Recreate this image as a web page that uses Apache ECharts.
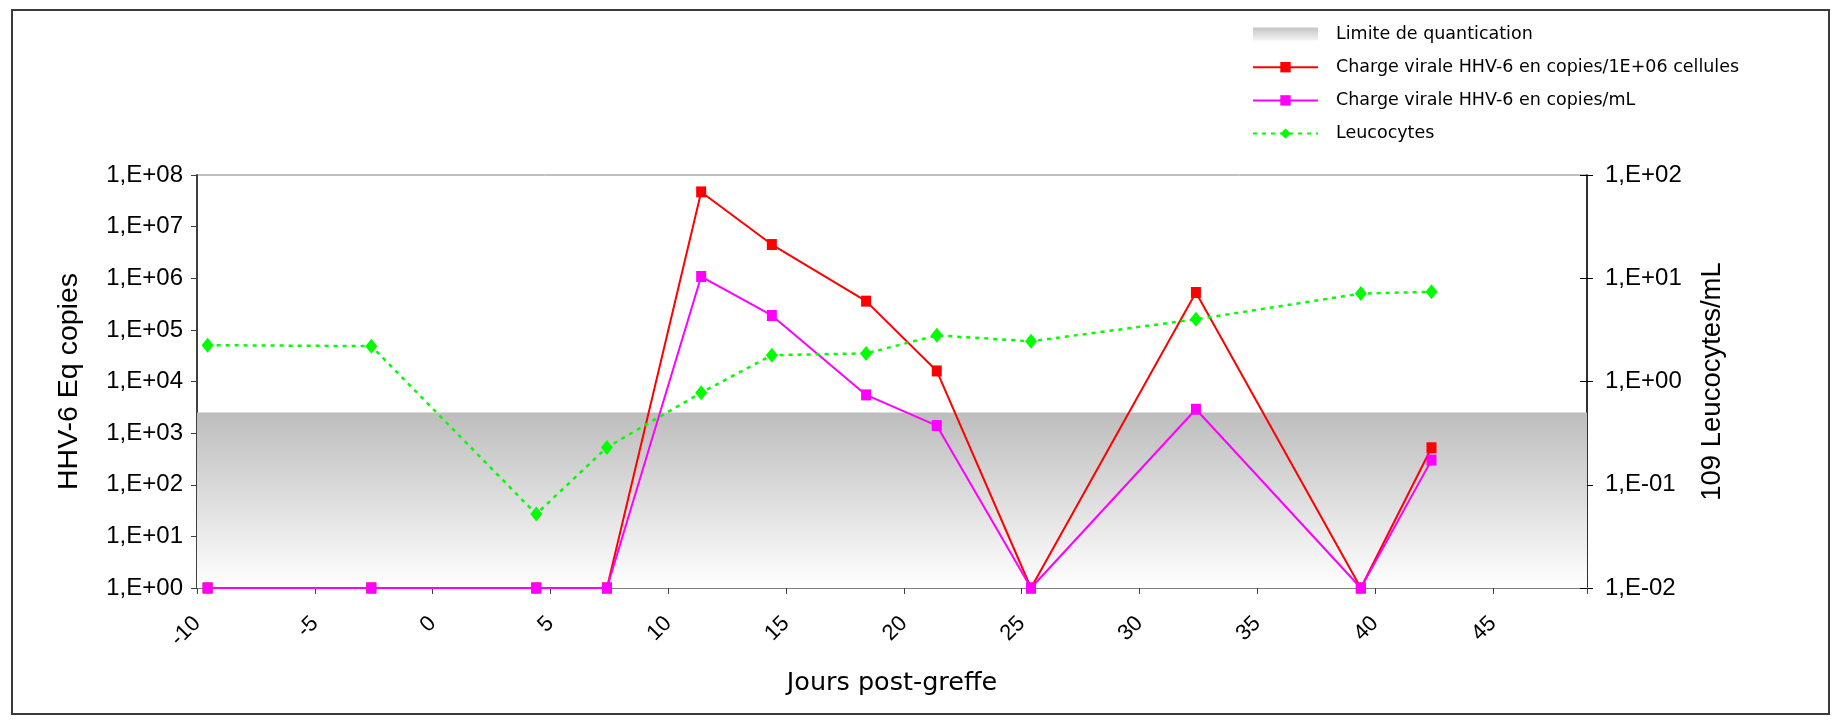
<!DOCTYPE html>
<html>
<head>
<meta charset="utf-8">
<title>HHV-6</title>
<script src="https://cdn.jsdelivr.net/npm/echarts@6/dist/echarts.min.js"></script>
<style>
  html, body { margin: 0; padding: 0; background: #fff; }
  #main { width: 1841px; height: 721px; }
</style>
</head>
<body>
<div id="main"></div>
<script>
var myChart = echarts.init(document.getElementById('main'));

// jours post-greffe
var days = [-9.55, -2.6, 4.4, 7.4, 11.4, 14.4, 18.4, 21.4, 25.4, 32.4, 39.4, 42.4];
// charge virale HHV-6 en copies/1E+06 cellules
var chargeCellules = [1, 1, 1, 1, 4.7e7, 4.5e6, 3.6e5, 1.6e4, 1, 5.3e5, 1, 520];
// charge virale HHV-6 en copies/mL
var chargeMl = [1, 1, 1, 1, 1.08e6, 1.9e5, 5.5e3, 1.4e3, 1, 2.9e3, 1, 300];
// leucocytes (10^9/mL)
var leucocytes = [2.25, 2.2, 0.052, 0.23, 0.78, 1.8, 1.87, 2.8, 2.45, 4.0, 7.1, 7.4];
// limite de quantification
var limite = 2500;
var xMin = -10, xMax = 49;

var seriesNames = [
    'Limite de quantication',
    'Charge virale HHV-6 en copies/1E+06 cellules',
    'Charge virale HHV-6 en copies/mL',
    'Leucocytes'
];

function pairs(xs, ys) {
    return xs.map(function (x, i) { return [x, ys[i]]; });
}

function expLabel(v) {
    var e = Math.round(Math.log(v) / Math.LN10);
    var s = e < 0 ? '-' : '+';
    var a = Math.abs(e);
    return '1,E' + s + (a < 10 ? '0' + a : a);
}

var bandGradient = new echarts.graphic.LinearGradient(0, 0, 0, 1, [
    { offset: 0, color: '#bdbdbd' },
    { offset: 1, color: '#ffffff' }
]);

var labelFont = {
    fontFamily: 'Liberation Sans, Arial, sans-serif',
    color: '#000'
};

option = {
    backgroundColor: '#fff',
    animation: false,
    graphic: [{
        type: 'rect',
        shape: { x: 12, y: 10, width: 1817, height: 704 },
        style: { fill: 'none', stroke: '#3a3a3a', lineWidth: 2 },
        z: -10
    }],
    grid: {
        left: 197,
        right: 254,
        top: 175,
        bottom: 133,
        show: true,
        borderColor: '#808080',
        borderWidth: 1,
        backgroundColor: '#fff'
    },
    legend: {
        orient: 'vertical',
        left: 1247,
        top: 20,
        itemWidth: 65,
        itemHeight: 13,
        itemGap: 15.2,
        textStyle: {
            fontFamily: 'DejaVu Sans, sans-serif',
            fontSize: 17.5,
            lineHeight: 13,
            color: '#000',
            padding: [0, 0, 0, 13]
        },
        data: [
            { name: seriesNames[0], icon: 'rect', itemStyle: { color: new echarts.graphic.LinearGradient(0, 0, 0, 1, [
                { offset: 0, color: '#c4c4c4' },
                { offset: 1, color: '#f4f4f4' }
            ]) } },
            { name: seriesNames[1] },
            { name: seriesNames[2] },
            { name: seriesNames[3] }
        ]
    },
    xAxis: {
        type: 'value',
        min: xMin,
        max: xMax,
        interval: 5,
        name: 'Jours post-greffe',
        nameLocation: 'middle',
        nameGap: 82,
        nameTextStyle: {
            fontFamily: 'DejaVu Sans, sans-serif',
            fontSize: 25.5,
            color: '#000'
        },
        axisLine: { show: true, onZero: false, lineStyle: { color: '#808080', width: 2 } },
        axisTick: { show: true, length: 6, lineStyle: { color: '#404040' } },
        splitLine: { show: false },
        axisLabel: Object.assign({
            fontSize: 22,
            rotate: 45,
            margin: 32,
            formatter: function (v) {
                return v % 5 === 0 ? String(v) : '';
            }
        }, labelFont)
    },
    yAxis: [
        {
            type: 'log',
            logBase: 10,
            min: 1,
            max: 1e8,
            position: 'left',
            name: 'HHV-6 Eq copies',
            nameLocation: 'middle',
            nameRotate: 90,
            nameGap: 113,
            nameTextStyle: Object.assign({ fontSize: 28.5 }, labelFont),
            axisLine: { show: true, onZero: false, lineStyle: { color: '#404040', width: 2 } },
            axisTick: { show: true, length: 6, lineStyle: { color: '#404040' } },
            splitLine: { show: false },
            minorTick: { show: false },
            axisLabel: Object.assign({ fontSize: 24, margin: 14, formatter: expLabel }, labelFont)
        },
        {
            type: 'log',
            logBase: 10,
            min: 0.01,
            max: 100,
            position: 'right',
            name: '109 Leucocytes/mL',
            nameLocation: 'middle',
            nameRotate: 90,
            nameGap: 111,
            nameTextStyle: Object.assign({ fontSize: 27.5 }, labelFont),
            axisLine: { show: true, onZero: false, lineStyle: { color: '#000', width: 1.5 } },
            axisTick: { show: true, length: 6, lineStyle: { color: '#000' } },
            splitLine: { show: false },
            axisLabel: Object.assign({ fontSize: 24, margin: 18, formatter: expLabel }, labelFont)
        },
        {
            // ticks inside the right axis (they cross it)
            type: 'log',
            logBase: 10,
            min: 0.01,
            max: 100,
            position: 'right',
            axisLine: { show: false, onZero: false },
            axisTick: { show: true, inside: true, length: 7, lineStyle: { color: '#000' } },
            splitLine: { show: false },
            axisLabel: { show: false }
        }
    ],
    series: [
        {
            name: seriesNames[0],
            type: 'line',
            data: pairs([xMin, xMax], [limite, limite]),
            symbol: 'none',
            lineStyle: { width: 0 },
            areaStyle: { origin: 'start', color: bandGradient, opacity: 1 },
            itemStyle: { color: '#c0c0c0' },
            silent: true,
            z: 1
        },
        {
            name: seriesNames[1],
            type: 'line',
            data: pairs(days, chargeCellules),
            symbol: 'rect',
            symbolSize: [10, 11],
            lineStyle: { color: '#ff0000', width: 2 },
            itemStyle: { color: '#ff0000' },
            z: 3
        },
        {
            name: seriesNames[2],
            type: 'line',
            data: pairs(days, chargeMl),
            symbol: 'rect',
            symbolSize: [10, 11],
            lineStyle: { color: '#ff00ff', width: 2 },
            itemStyle: { color: '#ff00ff' },
            z: 4
        },
        {
            name: seriesNames[3],
            type: 'line',
            yAxisIndex: 1,
            data: pairs(days, leucocytes),
            symbol: 'diamond',
            symbolSize: [12, 15],
            lineStyle: { color: '#00ff00', width: 2.5, type: [4, 5] },
            itemStyle: { color: '#00ff00' },
            z: 5
        }
    ]
};
myChart.setOption(option);
</script>
</body>
</html>
